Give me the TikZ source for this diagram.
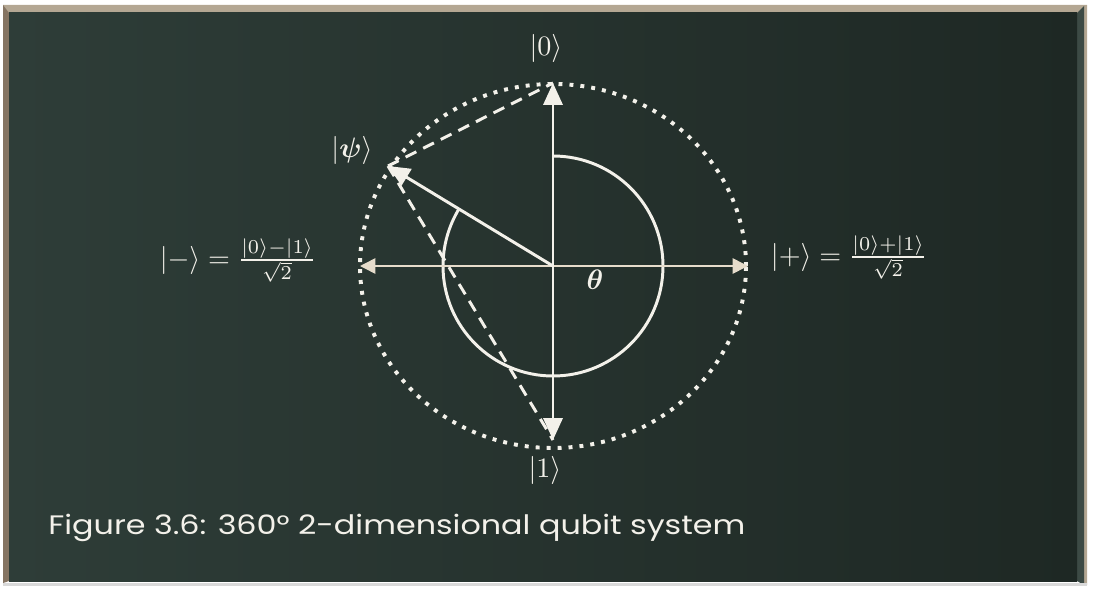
\documentclass[tikz,border=0pt]{standalone}
\usepackage{amsmath,amssymb}
\usepackage{fontspec}
\newfontfamily\chalkfont{Poppins}
\usetikzlibrary{arrows.meta}
\definecolor{boardlight}{HTML}{2E3D38}
\definecolor{boarddark}{HTML}{1E2824}
\definecolor{framebeige}{HTML}{B4A793}
\definecolor{framebrown}{HTML}{857462}
\definecolor{frameedge}{HTML}{3C4A45}
\definecolor{chalkwhite}{HTML}{F3F1EA}
\definecolor{chalktan}{HTML}{E6DCCB}
\tikzset{
  chalkline/.style={line width=2.1pt, chalkwhite},
  chalkarrow/.style={chalkline, {Triangle[length=15.5pt, width=13.5pt]}-{Triangle[length=15.5pt, width=13.5pt]}},
  axisarrow/.style={line width=1.1pt, chalktan, {Triangle[length=11pt, width=11pt]}-{Triangle[length=11pt, width=11pt]}},
  psiarrow/.style={chalkline, -{Triangle[length=15.5pt, width=13.5pt]}},
  dotcircle/.style={line width=2.8pt, chalkwhite, dash pattern=on 2.8pt off 5pt},
  dashline/.style={chalkline, dash pattern=on 8.5pt off 5.5pt},
  ketlabel/.style={text=chalkwhite, scale=2, inner sep=0pt},
  caption/.style={text=chalkwhite, font=\chalkfont\fontsize{19}{22}\selectfont, inner sep=0pt, xscale=1.19},
}

\begin{document}
\begin{tikzpicture}[x=0.025cm, y=0.025cm]
  \useasboundingbox (0,0) rectangle (1095,595);
  % frame and board
  \fill[framebeige] (3,590) -- (1087,590) -- (1087,10) -- (1084,10) -- (1084,581) -- (3,581) -- cycle;
  \fill[framebrown] (3,590) -- (9,582) -- (9,14) -- (3,12) -- cycle;
  \fill[frameedge] (1077,582) -- (1084,589) -- (1084,10) -- (1077,14) -- cycle;
  \fill[gray!30] (3,12) -- (1087,12) -- (1087,9) -- (3,9) -- cycle;
  \fill[left color=boardlight, right color=boarddark] (9,14) rectangle (1077,582);

  \coordinate (O) at (553,329);
  \coordinate (top) at (553,512);
  \coordinate (bot) at (553,155);
  \coordinate (left) at (360,329);
  \coordinate (right) at (748,329);
  \coordinate (psi) at (388,429);

  % circles
  \draw[dotcircle] (O) ellipse [x radius=193, y radius=182];
  \draw[chalkline] ([shift={(90:110)}]O) arc[start angle=90, end angle=-211.4, radius=110];

  % axes and state
  \draw[axisarrow] (left) -- (right);
  \draw[chalkarrow] (bot) -- (top);
  \draw[dashline] (psi) -- (top);
  \draw[dashline] (psi) -- (bot);
  \draw[psiarrow] (O) -- (psi);

  % labels
  \node[ketlabel] (ket0) at (546,547) {$|0\rangle$};
  \node[ketlabel] (ket1) at (545,125) {$|1\rangle$};
  \node[ketlabel] (ketpsi) at (352,445) {$|\boldsymbol{\psi}\rangle$};
  \node[ketlabel] (theta) at (595,315) {$\boldsymbol{\theta}$};
  \node[ketlabel, anchor=base] (ketminus) at (238,328) {$|-\rangle = \frac{|0\rangle - |1\rangle}{\sqrt{2}}$};
  \node[ketlabel, anchor=base] (ketplus) at (849,331) {$|+\rangle = \frac{|0\rangle + |1\rangle}{\sqrt{2}}$};

  \node[caption, anchor=west] (fig) at (48,67) {Figure 3.6: 360° 2-dimensional qubit system};
\end{tikzpicture}
\end{document}
